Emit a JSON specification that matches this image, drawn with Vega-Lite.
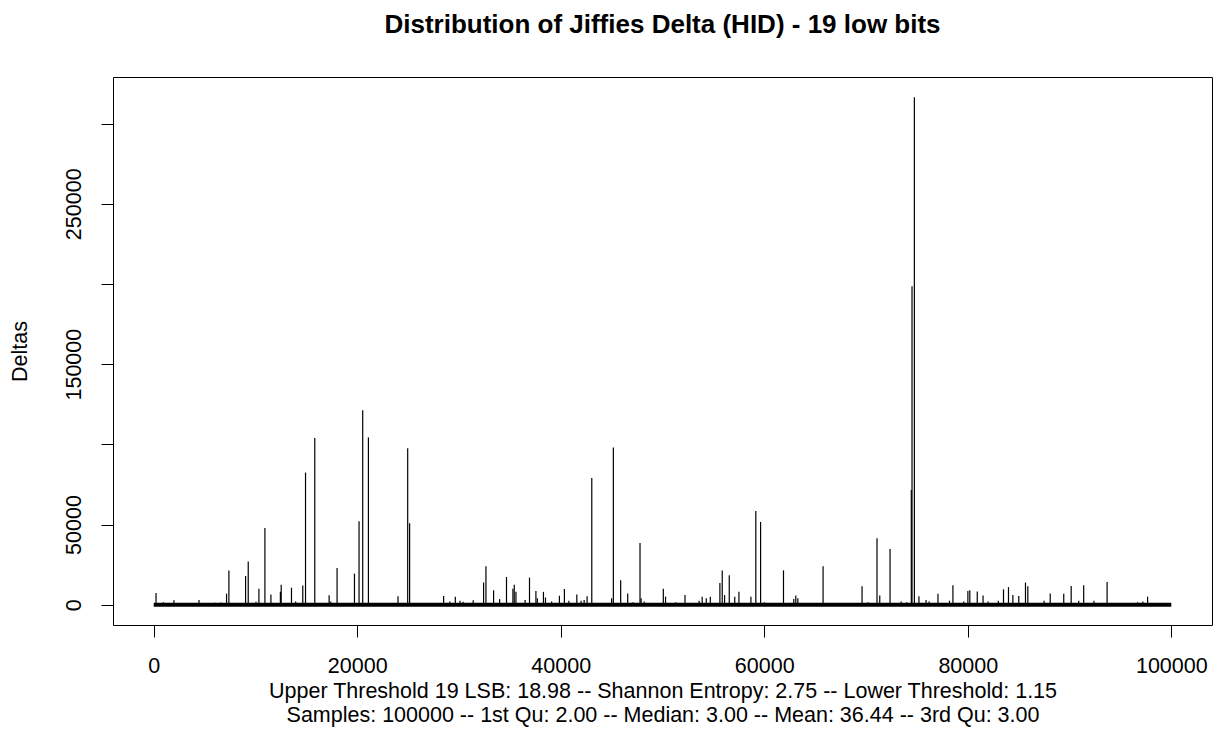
{
  "$schema": "https://vega.github.io/schema/vega-lite/v6.json",
  "width": 1099,
  "height": 548,
  "autosize": {"type": "none"},
  "padding": {"left": 113, "top": 77, "right": 1, "bottom": 104},
  "background": "white",
  "title": {
    "text": "Distribution of Jiffies Delta (HID) - 19 low bits",
    "fontSize": 26,
    "fontWeight": "bold",
    "font": "Liberation Sans",
    "color": "black",
    "anchor": "middle",
    "frame": "group",
    "baseline": "alphabetic",
    "offset": 18
  },
  "config": {
    "font": "Liberation Sans",
    "view": {"stroke": "black", "strokeWidth": 1}
  },
  "datasets": {
    "baseline": [
      {"index": 1, "index_end": 100000, "delta": 0}
    ],
    "spikes": [
      {"index": 230, "delta": 7300},
      {"index": 950, "delta": 1500},
      {"index": 1990, "delta": 2700},
      {"index": 4450, "delta": 3000},
      {"index": 6000, "delta": 1200},
      {"index": 6600, "delta": 1300},
      {"index": 7160, "delta": 6900},
      {"index": 7390, "delta": 21400},
      {"index": 9030, "delta": 17900},
      {"index": 9290, "delta": 27000},
      {"index": 10050, "delta": 1800},
      {"index": 10340, "delta": 10000},
      {"index": 10930, "delta": 47800},
      {"index": 11520, "delta": 6400},
      {"index": 12450, "delta": 8000},
      {"index": 12530, "delta": 12500},
      {"index": 13540, "delta": 10600},
      {"index": 13950, "delta": 2000},
      {"index": 14650, "delta": 11900},
      {"index": 14920, "delta": 82400},
      {"index": 15830, "delta": 103900},
      {"index": 16100, "delta": 1000},
      {"index": 17240, "delta": 5900},
      {"index": 17400, "delta": 2000},
      {"index": 18020, "delta": 22900},
      {"index": 19730, "delta": 19400},
      {"index": 20180, "delta": 52000},
      {"index": 20540, "delta": 121200},
      {"index": 21100, "delta": 104300},
      {"index": 21600, "delta": 800},
      {"index": 24010, "delta": 5200},
      {"index": 24960, "delta": 97600},
      {"index": 25150, "delta": 50800},
      {"index": 28490, "delta": 5400},
      {"index": 29100, "delta": 2000},
      {"index": 29640, "delta": 5000},
      {"index": 30100, "delta": 2500},
      {"index": 30400, "delta": 1800},
      {"index": 31400, "delta": 2800},
      {"index": 32420, "delta": 13800},
      {"index": 32650, "delta": 24000},
      {"index": 33400, "delta": 9000},
      {"index": 33990, "delta": 3500},
      {"index": 34670, "delta": 17300},
      {"index": 35300, "delta": 10000},
      {"index": 35430, "delta": 12500},
      {"index": 35600, "delta": 8000},
      {"index": 36500, "delta": 3000},
      {"index": 36930, "delta": 16900},
      {"index": 37560, "delta": 8600},
      {"index": 37700, "delta": 4000},
      {"index": 38300, "delta": 8000},
      {"index": 38500, "delta": 4500},
      {"index": 39100, "delta": 2000},
      {"index": 39870, "delta": 5600},
      {"index": 40360, "delta": 9800},
      {"index": 40800, "delta": 2500},
      {"index": 41580, "delta": 6300},
      {"index": 42000, "delta": 2500},
      {"index": 42300, "delta": 3000},
      {"index": 42590, "delta": 5200},
      {"index": 43050, "delta": 79000},
      {"index": 43400, "delta": 800},
      {"index": 45000, "delta": 4000},
      {"index": 45170, "delta": 98100},
      {"index": 45890, "delta": 15200},
      {"index": 46580, "delta": 7000},
      {"index": 47100, "delta": 1500},
      {"index": 47790, "delta": 38400},
      {"index": 47900, "delta": 4000},
      {"index": 48200, "delta": 2000},
      {"index": 50080, "delta": 10000},
      {"index": 50300, "delta": 5000},
      {"index": 51300, "delta": 1500},
      {"index": 52210, "delta": 6000},
      {"index": 53600, "delta": 2500},
      {"index": 53900, "delta": 5000},
      {"index": 54300, "delta": 4000},
      {"index": 54700, "delta": 5000},
      {"index": 55640, "delta": 13500},
      {"index": 55870, "delta": 21400},
      {"index": 56100, "delta": 6000},
      {"index": 56560, "delta": 18300},
      {"index": 57100, "delta": 5000},
      {"index": 57510, "delta": 8000},
      {"index": 58690, "delta": 5000},
      {"index": 59170, "delta": 58400},
      {"index": 59640, "delta": 51600},
      {"index": 60000, "delta": 1500},
      {"index": 61890, "delta": 21400},
      {"index": 62900, "delta": 3500},
      {"index": 63100, "delta": 5700},
      {"index": 63300, "delta": 4000},
      {"index": 65780, "delta": 24000},
      {"index": 69610, "delta": 11500},
      {"index": 70200, "delta": 1500},
      {"index": 71080, "delta": 41400},
      {"index": 71350, "delta": 5800},
      {"index": 72360, "delta": 34800},
      {"index": 73450, "delta": 2000},
      {"index": 74000, "delta": 1500},
      {"index": 74450, "delta": 71600},
      {"index": 74520, "delta": 198500},
      {"index": 74750, "delta": 316400},
      {"index": 75200, "delta": 5200},
      {"index": 75900, "delta": 3000},
      {"index": 76200, "delta": 2000},
      {"index": 77070, "delta": 6900},
      {"index": 78200, "delta": 2500},
      {"index": 78540, "delta": 12100},
      {"index": 79600, "delta": 2000},
      {"index": 80010, "delta": 8600},
      {"index": 80200, "delta": 9000},
      {"index": 80930, "delta": 8300},
      {"index": 81500, "delta": 5700},
      {"index": 82000, "delta": 2000},
      {"index": 83000, "delta": 2500},
      {"index": 83510, "delta": 9600},
      {"index": 84000, "delta": 11000},
      {"index": 84430, "delta": 6000},
      {"index": 85010, "delta": 5500},
      {"index": 85670, "delta": 13800},
      {"index": 85900, "delta": 11500},
      {"index": 87500, "delta": 2500},
      {"index": 88100, "delta": 7000},
      {"index": 89430, "delta": 6800},
      {"index": 90160, "delta": 11700},
      {"index": 90900, "delta": 2500},
      {"index": 91390, "delta": 12100},
      {"index": 92400, "delta": 2500},
      {"index": 93690, "delta": 14200},
      {"index": 96300, "delta": 1000},
      {"index": 96700, "delta": 1500},
      {"index": 97200, "delta": 2000},
      {"index": 97670, "delta": 5000},
      {"index": 99000, "delta": 1000}
    ]
  },
  "encoding": {
    "x": {
      "field": "index",
      "type": "quantitative",
      "scale": {"domain": [-3999, 103999], "nice": false, "zero": false},
      "axis": {
        "values": [0, 20000, 40000, 60000, 80000, 100000],
        "format": "d",
        "grid": false,
        "domain": false,
        "tickSize": 12,
        "tickColor": "black",
        "tickWidth": 1,
        "labelFontSize": 21.5,
        "labelColor": "black",
        "labelPadding": 18.5,
        "labelFlush": false,
        "labelOverlap": false,
        "title": [
          "Upper Threshold 19 LSB: 18.98 -- Shannon Entropy: 2.75 -- Lower Threshold: 1.15",
          "Samples: 100000 -- 1st Qu: 2.00 -- Median: 3.00 -- Mean: 36.44 -- 3rd Qu: 3.00"
        ],
        "titleFontSize": 21.5,
        "titleFontWeight": "normal",
        "titleColor": "black",
        "titleX": 549.5,
        "titleY": 72.5,
        "titleAlign": "center",
        "titleBaseline": "alphabetic",
        "titleLineHeight": 24
      }
    },
    "y": {
      "field": "delta",
      "type": "quantitative",
      "scale": {"domain": [-12656, 329056], "nice": false, "zero": false},
      "axis": {
        "values": [0, 50000, 100000, 150000, 200000, 250000, 300000],
        "labelExpr": "datum.value == 0 || datum.value % 100000 == 50000 ? format(datum.value, 'd') : ''",
        "grid": false,
        "domain": false,
        "tickSize": 12,
        "tickColor": "black",
        "tickWidth": 1,
        "labelFontSize": 21.5,
        "labelColor": "black",
        "labelAngle": 270,
        "labelAlign": "center",
        "labelBaseline": "alphabetic",
        "labelPadding": 21,
        "labelOverlap": false,
        "title": "Deltas",
        "titleFontSize": 21.5,
        "titleFontWeight": "normal",
        "titleColor": "black",
        "titleAngle": 270,
        "titleX": -93,
        "titleY": 274,
        "titleAlign": "center",
        "titleBaseline": "middle"
      }
    }
  },
  "layer": [
    {
      "data": {"name": "spikes"},
      "mark": {"type": "rule", "color": "black", "strokeWidth": 1.2, "strokeCap": "butt"},
      "encoding": {
        "y2": {"datum": 0}
      }
    },
    {
      "data": {"name": "baseline"},
      "mark": {"type": "rule", "color": "black", "strokeWidth": 4},
      "encoding": {
        "x2": {"field": "index_end"}
      }
    }
  ]
}
